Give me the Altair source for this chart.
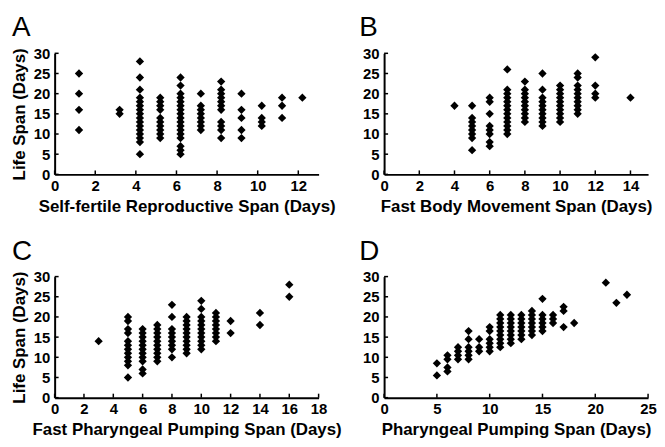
import altair as alt
import pandas as pd

FONT = "Liberation Sans"
W, H = 266, 122

Y_TICKS = [0, 5, 10, 15, 20, 25, 30]

# Panel A: Self-fertile reproductive span vs life span
A_X = [1.2, 3.2, 4.2, 5.2, 6.2, 7.2, 8.2, 9.2, 10.2, 11.2, 12.2]
A_Y = [
    [25, 20, 16, 11],
    [16, 15],
    [28, 24, 21, 19, 18, 17, 16, 15, 14, 13, 12, 11, 10, 9, 8, 5],
    [19, 18, 17, 16, 14, 13, 12, 11, 10, 9],
    [24, 22, 20, 19, 18, 17, 16, 15, 14, 13, 12, 11, 10, 9, 7, 6, 5],
    [20, 17, 16, 15, 14, 13, 12, 11],
    [23, 21, 20, 19, 18, 17, 16, 13, 12, 11, 9],
    [20, 16, 14, 11, 9],
    [17, 14, 13, 12],
    [19, 17, 14],
    [19],
]
A_XTICKS = [0, 2, 4, 6, 8, 10, 12]

# Panel B: Fast body movement span vs life span
B_X = [4, 5, 6, 7, 8, 9, 10, 11, 12, 14]
B_Y = [
    [17],
    [17, 14, 13, 12, 11, 10, 9, 6],
    [19, 18, 15, 12, 11, 10, 8, 7],
    [26, 21, 20, 19, 18, 17, 16, 15, 14, 13, 12, 11, 10],
    [23, 21, 20, 19, 18, 17, 16, 15, 14, 13],
    [25, 21, 19, 18, 17, 16, 15, 14, 13, 12],
    [22, 21, 20, 19, 18, 17, 16, 15, 14, 13],
    [25, 24, 22, 21, 20, 19, 18, 17, 16, 15],
    [29, 22, 20, 19],
    [19],
]
B_XTICKS = [0, 2, 4, 6, 8, 10, 12, 14]

# Panel C: Fast pharyngeal pumping span vs life span
C_X = [3, 5, 6, 7, 8, 9, 10, 11, 12, 14, 16]
C_Y = [
    [14],
    [20, 19, 17, 16, 14, 13, 12, 11, 10, 9, 8, 5],
    [17, 16, 15, 14, 13, 12, 11, 10, 9, 7, 6],
    [18, 17, 16, 15, 14, 13, 12, 11, 10, 9],
    [23, 20, 17, 16, 15, 14, 13, 12, 10],
    [20, 19, 18, 17, 16, 15, 14, 13, 12, 11],
    [24, 22, 20, 19, 18, 17, 16, 15, 14, 13, 12],
    [21, 20, 19, 18, 17, 16, 15, 14],
    [19, 16],
    [21, 18],
    [28, 25],
]
C_XTICKS = [0, 2, 4, 6, 8, 10, 12, 14, 16, 18]

# Panel D: Pharyngeal pumping span vs life span
D_X = [5, 6, 7, 8, 9, 10, 11, 12, 13, 14, 15, 16, 17, 18, 21, 22, 23]
D_Y = [
    [8.5, 5.5],
    [10.5, 9.5, 7.5, 6.5],
    [12.5, 11.5, 10.5, 9.5],
    [16.5, 14.5, 12.5, 11.5, 10.5, 9.5],
    [14.5, 12.5, 11.5],
    [17.5, 16.5, 14.5, 13.5, 12.5, 11.5],
    [20.5, 19.5, 18.5, 17.5, 16.5, 15.5, 14.5, 13.5, 12.5],
    [20.5, 19.5, 18.5, 17.5, 16.5, 15.5, 14.5, 13.5],
    [20.5, 19.5, 18.5, 17.5, 16.5, 15.5, 14.5],
    [21.5, 20.5, 19.5, 18.5, 17.5, 16.5, 15.5],
    [24.5, 20.5, 19.5, 18.5, 17.5, 16.5],
    [20.5, 19.5, 18.5],
    [22.5, 21.5, 17.5],
    [18.5],
    [28.5],
    [23.5],
    [25.5],
]
D_XTICKS = [0, 5, 10, 15, 20, 25]


def panel(xs, ys, xmax, xticks, xtitle, letter, ytitle, t_offset, t_dx):
    df = pd.DataFrame(
        [(x, y) for x, col in zip(xs, ys) for y in col], columns=["x", "y"]
    )
    xscale = alt.Scale(domain=[0, xmax], nice=False, zero=True)
    yscale = alt.Scale(domain=[0, 30], nice=False)
    xaxis = alt.Axis(values=xticks, title=xtitle, labelPadding=4, titlePadding=5)
    yaxis = alt.Axis(values=Y_TICKS, title=ytitle, labelPadding=5, titlePadding=5)
    pts = alt.Chart(df).mark_point(
        shape="diamond", filled=True, size=70, color="black", opacity=1
    ).encode(
        x=alt.X("x:Q", scale=xscale, axis=xaxis),
        y=alt.Y("y:Q", scale=yscale, axis=yaxis),
    )
    xt = alt.Chart(pd.DataFrame({"x": xticks})).mark_rule(
        color="black", strokeWidth=1.5
    ).encode(
        x=alt.X("x:Q", scale=xscale, axis=xaxis),
        y=alt.value(H),
        y2=alt.value(H - 4),
    )
    yt = alt.Chart(pd.DataFrame({"y": Y_TICKS})).mark_rule(
        color="black", strokeWidth=1.5
    ).encode(
        y=alt.Y("y:Q", scale=yscale, axis=yaxis),
        x=alt.value(0),
        x2=alt.value(4),
    )
    return alt.layer(pts, xt, yt).properties(
        width=W,
        height=H,
        title=alt.TitleParams(
            text=letter, anchor="start", frame="group", fontSize=28,
            font=FONT, fontWeight="normal", color="black",
            baseline="alphabetic", offset=t_offset, dx=t_dx,
        ),
    )


A = panel(A_X, A_Y, 13, A_XTICKS, "Self-fertile Reproductive Span (Days)", "A",
          "Life Span (Days)", -18, -43)
B = panel(B_X, B_Y, 15, B_XTICKS, "Fast Body Movement Span (Days)", "B",
          None, -18, -25)
C = panel(C_X, C_Y, 18, C_XTICKS, "Fast Pharyngeal Pumping Span (Days)", "C",
          "Life Span (Days)", -18, -43)
D = panel(D_X, D_Y, 25, D_XTICKS, "Pharyngeal Pumping Span (Days)", "D",
          None, -18, -25)

chart = alt.concat(
    A, B, C, D, columns=2, spacing={"row": 103, "column": 66}, bounds="flush"
).properties(
    padding={"left": 2, "top": 5, "right": 0, "bottom": 0},
    background="white",
).configure_view(stroke=None).configure_axis(
    domainColor="black",
    domainWidth=2,
    ticks=False,
    tickSize=0,
    grid=False,
    labelFont=FONT,
    labelFontSize=15,
    labelFontWeight="bold",
    labelColor="black",
    labelFlush=False,
    labelOverlap=False,
    titleFont=FONT,
    titleFontSize=17,
    titleFontWeight="bold",
    titleColor="black",
)

chart.save("out.html", embed_options={"renderer": "svg", "actions": False})
